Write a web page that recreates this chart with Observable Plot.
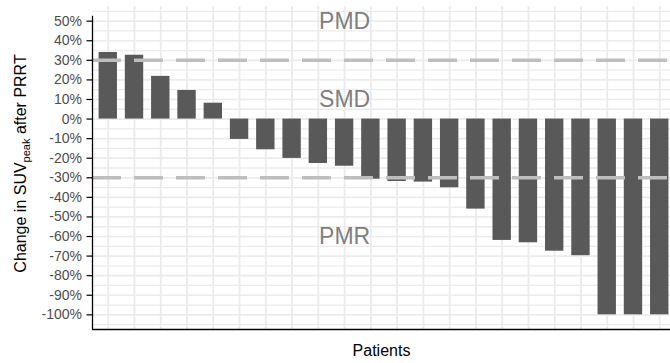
<!DOCTYPE html>
<html><head><meta charset="utf-8">
<script src="https://cdn.jsdelivr.net/npm/d3@7"></script>
<script src="https://cdn.jsdelivr.net/npm/@observablehq/plot@0.6"></script>
<style>html,body{margin:0;padding:0;background:#fff}#chart{width:670px;height:363px}</style>
</head><body><div id="chart"></div>
<script>
const patients = [1,2,3,4,5,6,7,8,9,10,11,12,13,14,15,16,17,18,19,20,21,22];
const changes = [34.0, 32.6, 21.8, 14.6, 8.1, -10.4, -15.7, -20.1, -22.7, -24.1, -30.7, -31.9, -32.2, -35.1, -46.0, -62.0, -63.2, -67.5, -69.8, -100, -100, -100];
const yTicks = [-100,-90,-80,-70,-60,-50,-40,-30,-20,-10,0,10,20,30,40,50];
const yMinor = [-105,-95,-85,-75,-65,-55,-45,-35,-25,-15,-5,5,15,25,35,45,55];
const thresholds = [30, -30];
const zoneLabels = ["PMD","SMD","PMR"];
const zoneY = [50, 10, -60];
const zoneX = 10;
const xDomain = [0.4, 22.6];
const yDomain = [-107.5, 57.5];

const data = patients.map((p, i) => ({patient: p, change: changes[i]}));
const zones = zoneLabels.map((z, i) => ({label: z, y: zoneY[i]}));
const barHalf = 0.35;

const plot = Plot.plot({
  width: 670, height: 363,
  marginLeft: 92, marginRight: 0, marginTop: 6, marginBottom: 34,
  style: {fontFamily: "'Liberation Sans', Arial, sans-serif", background: "#fff"},
  x: {domain: xDomain, range: [92, 675], axis: null},
  y: {domain: yDomain, axis: null},
  marks: [
    Plot.ruleY(yMinor, {stroke: "#EBEBEB", strokeWidth: 1.3}),
    Plot.ruleY(yTicks, {stroke: "#EBEBEB", strokeWidth: 1.7}),
    Plot.ruleX(patients, {stroke: "#EBEBEB", strokeWidth: 1.8}),
    Plot.rectY(data, {x1: d => d.patient - barHalf, x2: d => d.patient + barHalf, y1: 0, y2: "change", fill: "#595959"}),
    Plot.ruleY(thresholds, {stroke: "#BEBEBE", strokeWidth: 3.5, strokeDasharray: "29,13"}),
    Plot.text(zones, {x: () => zoneX, y: "y", text: "label", fontSize: 23, fill: "#7F7F7F"}),
    Plot.ruleX([xDomain[0]], {y1: yDomain[0], y2: 52.5, stroke: "black", strokeWidth: 1.3}),
    Plot.ruleY([yDomain[0]], {x1: xDomain[0], x2: xDomain[1], stroke: "black", strokeWidth: 1.3}),
    Plot.axisY(yTicks, {tickFormat: d => d + "%", tickSize: 5.5, tickPadding: 5, fontSize: 14, fill: "#4D4D4D", stroke: "black", strokeWidth: 1.2, label: null}),
    Plot.text(["Patients"], {text: d => d, frameAnchor: "bottom", lineAnchor: "middle", dy: 21, fontSize: 16, fill: "black"})
  ]
});

const svg = d3.select(plot);
const t = svg.append("text")
  .attr("transform", "translate(25.5,163.5) rotate(-90)")
  .attr("text-anchor", "middle")
  .attr("font-size", 16)
  .attr("fill", "black");
t.append("tspan").text("Change in SUV");
t.append("tspan").attr("font-size", 11).attr("dy", 4).text("peak");
t.append("tspan").attr("dy", -4).text(" after PRRT");

document.getElementById("chart").appendChild(plot);
</script>
</body></html>
